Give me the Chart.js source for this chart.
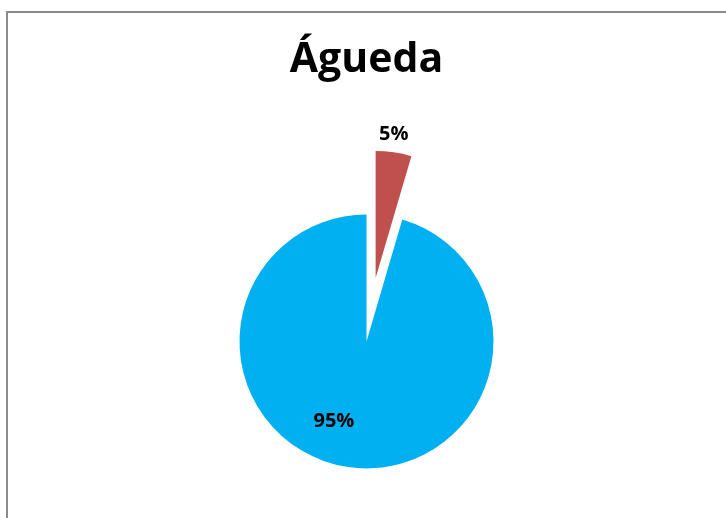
<!DOCTYPE html>
<html>
<head>
<meta charset="utf-8">
<title>Águeda</title>
<script src="https://cdn.jsdelivr.net/npm/chart.js@4/dist/chart.umd.min.js"></script>
<style>
  html, body { margin: 0; padding: 0; overflow: hidden; background: #fff; }
  #frame { position: absolute; left: 6px; top: 11px; width: 800px; height: 600px; border: 2px solid #898989; }
  #wrap { position: absolute; left: 0; top: 0; width: 726px; height: 600px; }
</style>
</head>
<body>
<div id="frame"></div>
<div id="wrap"><canvas id="pieChart" width="726" height="600"></canvas></div>
<script>
const categories = ["Categoria 1", "Categoria 2"];
const values = [1, 21];
const sliceColors = ["#C0504D", "#00B0F0"];

// chart.js grows and narrows a small exploded slice, undo that so it keeps
// the common radius and its full angle
const explodeFix = {
  id: "explodeFix",
  afterDatasetsUpdate(chart) {
    chart.getDatasetMeta(0).data.forEach((arc) => {
      const shift = (arc.options.offset || 0) / 4;
      if (!shift) return;
      const fix = 1 - Math.sin(Math.min(Math.PI, arc.circumference));
      const grow = shift * fix;
      const full = arc.outerRadius;
      arc.outerRadius = full - grow;
      const widen = grow / Math.PI / full / 2;
      arc.startAngle -= widen;
      arc.endAngle += widen;
    });
  },
};

// percentage labels
const pctLabels = {
  id: "pctLabels",
  afterDatasetsDraw(chart, args, opts) {
    const ctx = chart.ctx;
    const meta = chart.getDatasetMeta(0);
    const radius = meta.controller.outerRadius;
    const total = values.reduce((acc, v) => acc + v, 0);

    ctx.save();
    ctx.font = opts.font;
    ctx.fillStyle = opts.color;
    ctx.textAlign = "center";
    ctx.textBaseline = "middle";
    meta.data.forEach((arc, i) => {
      const place = opts.place[i];
      const mid = (arc.startAngle + arc.endAngle) / 2;
      const shift = (arc.options.offset || 0) / 4;
      const cx = arc.x + Math.cos(mid) * shift;
      const cy = arc.y + Math.sin(mid) * shift;
      const a = mid + (place.turn * Math.PI) / 180;
      const r = radius * place.dist;
      const text = Math.round((values[i] / total) * 100) + "%";
      ctx.fillText(text, cx + Math.cos(a) * r, cy + Math.sin(a) * r);
    });
    ctx.restore();
  },
};

const ctx = document.getElementById("pieChart").getContext("2d");
const pieChart = new Chart(ctx, {
  type: "pie",
  data: {
    labels: categories,
    datasets: [
      {
        data: values,
        backgroundColor: sliceColors,
        borderWidth: 0,
        offset: [256, 0],
      },
    ],
  },
  options: {
    responsive: false,
    animation: false,
    events: [],
    radius: 127,
    layout: {
      padding: { left: 7, right: 0, top: 0, bottom: 2.4 },
    },
    plugins: {
      legend: { display: false },
      tooltip: { enabled: false },
      title: {
        display: true,
        text: "Águeda",
        color: "#000",
        font: { family: "'Open Sans'", size: 41, weight: "bold", lineHeight: 1.2 },
        padding: { top: 36, bottom: 0 },
      },
      pctLabels: {
        font: "bold 20px 'Open Sans'",
        color: "#000",
        place: [
          { turn: -1, dist: 1.143 },
          { turn: 14, dist: 0.68 },
        ],
      },
    },
  },
  plugins: [explodeFix, pctLabels],
});
</script>
</body>
</html>
